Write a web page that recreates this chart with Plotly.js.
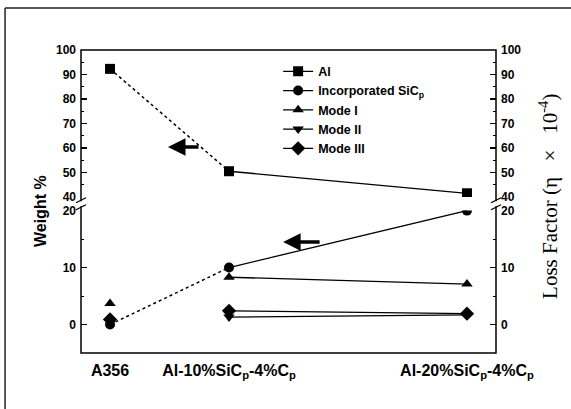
<!DOCTYPE html>
<html>
<head>
<meta charset="utf-8">
<script src="https://cdn.plot.ly/plotly-3.0.1.min.js"></script>
<style>html,body{margin:0;padding:0;background:#fff;}#chart{width:571px;height:409px;}</style>
</head>
<body>
<div id="chart"></div>
<script>
// ---- data ----
const categories = ['A356', 'Al-10%SiC<sub>p</sub>-4%C<sub>p</sub>', 'Al-20%SiC<sub>p</sub>-4%C<sub>p</sub>'];
const xPos = [0, 1, 3];
const seriesNames = ['Al', 'Incorporated SiC<sub>p</sub>', 'Mode I', 'Mode II', 'Mode III'];
const al = [92.3, 50.5, 41.5];
const sic = [0, 10, 20];
const mode1 = [3.7, 8.3, 7.1];
const mode2 = [0.6, 1.3, 1.7];
const mode3 = [0.9, 2.4, 1.9];
const lowerTicks = [0, 10, 20];
const upperTicks = [40, 50, 60, 70, 80, 90, 100];

// ---- traces ----
const traces = [];
function addSeries(name, y, axis, symbol, size, dotted) {
  if (dotted) {
    traces.push({x: xPos.slice(0, 2), y: y.slice(0, 2), yaxis: axis, mode: 'lines',
      line: {dash: 'dot', width: 1.5, color: '#000'}, showlegend: false, hoverinfo: 'skip'});
  }
  traces.push({x: xPos.slice(0, 1), y: y.slice(0, 1), yaxis: axis, mode: 'markers',
    marker: {symbol: symbol, size: size, color: '#000'}, showlegend: false});
  traces.push({name: name, x: xPos.slice(1), y: y.slice(1), yaxis: axis, mode: 'lines+markers',
    line: {width: 1.3, color: '#000'}, marker: {symbol: symbol, size: size, color: '#000'}});
}
addSeries(seriesNames[0], al, 'y2', 'square', 10, true);
addSeries(seriesNames[1], sic, 'y', 'circle', 10, true);
addSeries(seriesNames[2], mode1, 'y', 'triangle-up', 10, false);
addSeries(seriesNames[3], mode2, 'y', 'triangle-down', 10, false);
addSeries(seriesNames[4], mode3, 'y', 'diamond', 11, false);
// invisible companions so the right-hand (loss factor) axes are drawn
traces.push({x: xPos, y: mode1, yaxis: 'y3', mode: 'markers', marker: {opacity: 0}, showlegend: false, hoverinfo: 'skip'});
traces.push({x: xPos, y: al, yaxis: 'y4', mode: 'markers', marker: {opacity: 0}, showlegend: false, hoverinfo: 'skip'});

const tickFont = {family: 'Liberation Sans, Arial, sans-serif', size: 12, color: '#000', weight: 'bold'};
function yax(extra) {
  return Object.assign({
    showgrid: false, zeroline: false, showline: false,
    ticks: 'inside', ticklen: 6, tickwidth: 1.3, tickcolor: '#000',
    tickfont: tickFont, ticklabelstandoff: 4, autorange: false,
    minor: {ticks: 'inside', ticklen: 3, tickwidth: 1, tickcolor: '#000', dtick: 5, tick0: 0}
  }, extra);
}

const gapMid = 0.4926;
const layout = {
  width: 571, height: 409,
  margin: {l: 81, r: 75, t: 50, b: 56},
  paper_bgcolor: '#fff', plot_bgcolor: '#fff',
  font: {family: 'Liberation Sans, Arial, sans-serif', color: '#000'},
  showlegend: true,
  legend: {x: 0.475, y: 0.978, xanchor: 'left', yanchor: 'top', bgcolor: 'rgba(0,0,0,0)',
    font: {family: 'Liberation Sans, Arial, sans-serif', size: 12.5, color: '#000', weight: 'bold'}},
  xaxis: {range: [-0.244, 3.244], showgrid: false, zeroline: false, showline: false,
    tickmode: 'array', tickvals: xPos, ticktext: categories, ticks: '',
    tickfont: {family: 'Liberation Sans, Arial, sans-serif', size: 16, color: '#000', weight: 'bold'},
    ticklabelstandoff: 6},
  yaxis: yax({domain: [0, 0.47], range: [-5, 20], tickmode: 'array', tickvals: lowerTicks}),
  yaxis2: yax({domain: [0.515, 1], range: [40, 100], tickmode: 'array', tickvals: upperTicks}),
  yaxis3: yax({overlaying: 'y', side: 'right', anchor: 'x', range: [-5, 20], tickmode: 'array', tickvals: lowerTicks}),
  yaxis4: yax({overlaying: 'y2', side: 'right', anchor: 'x', range: [40, 100], tickmode: 'array', tickvals: upperTicks}),
  shapes: [
    {type: 'rect', xref: 'paper', yref: 'paper', x0: 0, x1: 1, y0: 0, y1: 1, line: {color: '#000', width: 1.5}},
    // outer figure frame (left and top)
    {type: 'line', xref: 'paper', yref: 'paper', x0: -0.183, x1: -0.183, y0: -0.19, y1: 1.1386, line: {color: '#222', width: 1.5}},
    {type: 'line', xref: 'paper', yref: 'paper', x0: -0.183, x1: 1.19, y0: 1.1386, y1: 1.1386, line: {color: '#222', width: 1.5}},
    // axis breaks
    {type: 'rect', xref: 'paper', yref: 'paper', xsizemode: 'pixel', ysizemode: 'pixel', xanchor: 0, yanchor: gapMid,
      x0: -2, x1: 2, y0: -2.5, y1: 2.5, line: {width: 0}, fillcolor: '#fff'},
    {type: 'rect', xref: 'paper', yref: 'paper', xsizemode: 'pixel', ysizemode: 'pixel', xanchor: 1, yanchor: gapMid,
      x0: -2, x1: 2, y0: -2.5, y1: 2.5, line: {width: 0}, fillcolor: '#fff'},
    {type: 'line', xref: 'paper', yref: 'paper', xsizemode: 'pixel', ysizemode: 'pixel', xanchor: 0, yanchor: gapMid,
      x0: -5, x1: 5, y0: -6, y1: -1, line: {color: '#000', width: 1.3}},
    {type: 'line', xref: 'paper', yref: 'paper', xsizemode: 'pixel', ysizemode: 'pixel', xanchor: 0, yanchor: gapMid,
      x0: -5, x1: 5, y0: 1, y1: 6, line: {color: '#000', width: 1.3}},
    {type: 'line', xref: 'paper', yref: 'paper', xsizemode: 'pixel', ysizemode: 'pixel', xanchor: 1, yanchor: gapMid,
      x0: -5, x1: 5, y0: -6, y1: -1, line: {color: '#000', width: 1.3}},
    {type: 'line', xref: 'paper', yref: 'paper', xsizemode: 'pixel', ysizemode: 'pixel', xanchor: 1, yanchor: gapMid,
      x0: -5, x1: 5, y0: 1, y1: 6, line: {color: '#000', width: 1.3}}
  ],
  annotations: [
    {text: '<b>Weight %</b>', xref: 'paper', yref: 'paper', x: -0.096, y: 0.469, textangle: -90,
      showarrow: false, xanchor: 'center', yanchor: 'middle',
      font: {family: 'Liberation Sans, Arial, sans-serif', size: 16, color: '#000'}},
    {text: 'Loss Factor (η   ×   10<sup>-4</sup>)', xref: 'paper', yref: 'paper', x: 1.125, y: 0.518, textangle: -90,
      showarrow: false, xanchor: 'center', yanchor: 'middle',
      font: {family: 'Liberation Serif, Times New Roman, serif', size: 21, color: '#000'}},
    {text: '', xref: 'paper', yref: 'paper', x: 0.2096, y: 0.680, ax: 32, ay: 0, showarrow: true,
      arrowhead: 2, arrowwidth: 3.5, arrowsize: 1, arrowcolor: '#000'},
    {text: '', xref: 'paper', yref: 'paper', x: 0.487, y: 0.366, ax: 38, ay: 0, showarrow: true,
      arrowhead: 2, arrowwidth: 3.5, arrowsize: 1, arrowcolor: '#000'}
  ]
};

Plotly.newPlot('chart', traces, layout, {displayModeBar: false, staticPlot: true});
</script>
</body>
</html>
